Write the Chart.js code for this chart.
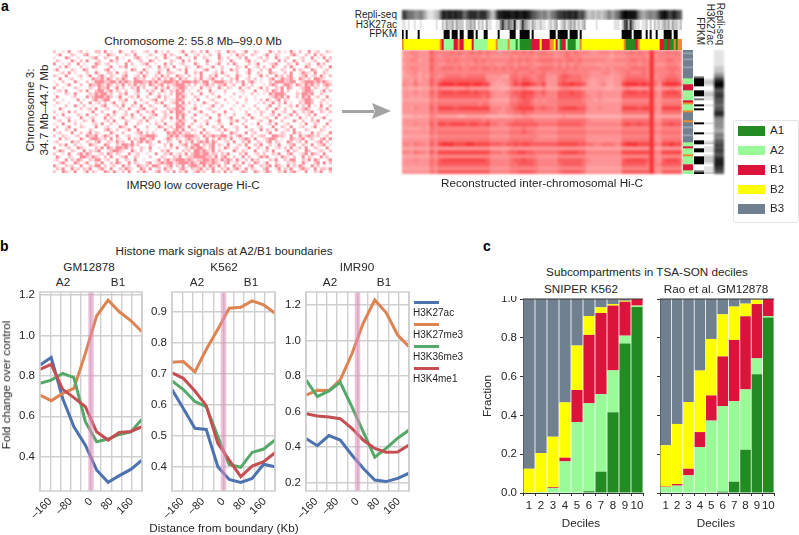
<!DOCTYPE html>
<html>
<head>
<meta charset="utf-8">
<title>Hi-C figure</title>
<script src="https://cdn.jsdelivr.net/npm/chart.js@4"></script>
<style>
  html, body { margin: 0; padding: 0; background: #fff; }
  #page { position: relative; width: 799px; height: 535px; overflow: hidden; font-family: "Liberation Sans", Arial, sans-serif; color: #262626; }
  #page canvas { position: absolute; }
  .txt { position: absolute; white-space: nowrap; line-height: 1; }
  .box { position: absolute; }
</style>
</head>
<body>
<div id="page"></div>
<script>
// panel b: histone marks around the A2/B1 boundary
const boundaryKb = [-200, -156, -111, -67, -22, 22, 67, 111, 156, 200];

const gmK27ac = [0.853, 0.891, 0.688, 0.548, 0.457, 0.334, 0.273, 0.306, 0.337, 0.383];
const gmK27me3 = [0.705, 0.677, 0.713, 0.738, 0.911, 1.096, 1.175, 1.117, 1.073, 1.018];
const gmK36me3 = [0.763, 0.779, 0.812, 0.791, 0.573, 0.474, 0.487, 0.51, 0.522, 0.585];
const gmK4me1 = [0.832, 0.857, 0.733, 0.692, 0.647, 0.523, 0.482, 0.52, 0.525, 0.548];

const k562K27ac = [0.649, 0.588, 0.524, 0.52, 0.40, 0.359, 0.349, 0.362, 0.408, 0.40];
const k562K27me3 = [0.737, 0.739, 0.706, 0.778, 0.843, 0.911, 0.914, 0.935, 0.922, 0.895];
const k562K36me3 = [0.677, 0.649, 0.61, 0.594, 0.497, 0.407, 0.398, 0.446, 0.457, 0.486];
const k562K4me1 = [0.703, 0.685, 0.644, 0.597, 0.475, 0.421, 0.368, 0.402, 0.416, 0.445];

const imrK27ac = [0.448, 0.408, 0.465, 0.44, 0.356, 0.281, 0.215, 0.206, 0.224, 0.253];
const imrK27me3 = [0.693, 0.72, 0.718, 0.778, 0.924, 1.097, 1.228, 1.157, 1.031, 0.965];
const imrK36me3 = [0.778, 0.684, 0.716, 0.765, 0.628, 0.487, 0.343, 0.393, 0.45, 0.496];
const imrK4me1 = [0.588, 0.575, 0.57, 0.56, 0.506, 0.44, 0.393, 0.371, 0.373, 0.412];

const markNames = ['H3K27ac', 'H3K27me3', 'H3K36me3', 'H3K4me1'];
const xTickLabels = { '-160': '–160', '-80': '–80', '0': '0', '80': '80', '160': '160' };

// panel c: subcompartments per decile
const deciles = ['1', '2', '3', '4', '5', '6', '7', '8', '9', '10'];

const sniperA1 = [0, 0, 0, 0, 0, 0.009, 0.11, 0.416, 0.77, 0.959];
const sniperA2 = [0, 0.005, 0.026, 0.163, 0.366, 0.453, 0.399, 0.216, 0.041, 0.007];
const sniperB1 = [0, 0, 0.004, 0.019, 0.165, 0.353, 0.419, 0.334, 0.175, 0.034];
const sniperB2 = [0.125, 0.201, 0.26, 0.285, 0.229, 0.097, 0.029, 0.008, 0.005, 0];
const sniperB3 = [0.875, 0.794, 0.71, 0.533, 0.24, 0.088, 0.043, 0.026, 0.009, 0];

const raoA1 = [0, 0, 0, 0, 0, 0.007, 0.058, 0.223, 0.612, 0.905];
const raoA2 = [0.031, 0.038, 0.091, 0.237, 0.373, 0.441, 0.415, 0.311, 0.082, 0.007];
const raoB1 = [0.002, 0.008, 0.034, 0.077, 0.13, 0.256, 0.316, 0.377, 0.28, 0.088];
const raoB2 = [0.213, 0.31, 0.344, 0.317, 0.291, 0.217, 0.172, 0.065, 0.023, 0];
const raoB3 = [0.754, 0.644, 0.531, 0.369, 0.206, 0.079, 0.039, 0.024, 0.003, 0];

const subNames = ['A1', 'A2', 'B1', 'B2', 'B3'];

const lowCoverage = [
  '2001030012 0100220301 0031002100 1200301020 0013002102 0300120031 2001300210 0031020103 1020030120 021',
  '0130002100 2300010032 1000210300 0021001302 1000300120 1020030001 0312002100 1300210002 3100210302 100',
  '1000320010 0012300210 0301000231 0100200310 0230010300 2100031020 0120300012 0200310120 0012003010 302',
  '0210003102 0300120003 1200030012 0032010002 1003020100 0310021003 1000230100 2100030200 3102001200 031',
  '3001020030 1000320120 0100302001 2300100302 0012000310 0200130020 3100020130 0012300021 0300120031 200',
  '0020310002 0103200013 0021300100 0120030210 3000210032 0013002000 0210300120 2003100203 1000320012 003',
  '1300002100 3200100230 1000103200 3100021030 0120300100 2300102003 1200031002 0130002100 3021003200 120',
  '0012030100 0200310022 0301200013 0200130022 1000300213 0001203100 0200130021 0032100203 0013210300 210',
  '2100300012 0130023102 1002300120 3100203120 0321020103 0021300120 0310020013 0200312023 0012301203 102',
  '0030012001 0003223132 0213200321 2002130213 2031200213 0123102002 1300120201 0023013223 1032120332 100',
  '1002000310 0201333223 3132321333 2232312333 2313332321 3302333212 0213023101 0021333223 3012333232 321',
  '0200130002 0032232132 0213021312 2032123021 2333120201 2312022301 2003102000 1023201332 0321323120 232',
  '3001000210 0021032230 1302002130 2001302130 1233201003 0120031021 0030120013 0200213032 0012330210 120',
  '0120300012 0300233123 0210200130 0212003102 1323010021 0030100200 0012000300 1203213020 0102332001 302',
  '1000210300 0021323312 0021300120 0031020102 0332102003 0012000100 2001002010 1032333200 0213323002 100',
  '0300001200 0312333232 0130012030 0200130210 0323100210 0200130001 0020100100 0012323130 0203230120 030',
  '2001000030 1002312330 0021300102 0012300201 1332001030 0012000200 1000200102 0310230210 0012332001 201',
  '0210010002 0030120201 3002100300 1200213001 2313020100 3100210010 0200100010 2013020301 0021332002 010',
  '1000200310 2001002300 1203002103 0021000310 0332100201 0013002000 1002000200 0130020012 0302130103 002',
  '0031000002 0120300120 0021030012 3001200021 2323001300 0120010002 0010010020 0200310201 0012320012 030',
  '2001030200 0013002000 3100200130 0213001203 1332020013 0002100300 1000200102 1003001200 3102123002 102',
  '0103000021 0300200130 2001203002 0012300210 0323100300 1200030100 2000130002 0012030013 0200120300 010',
  '3000120003 0012000302 0013002100 3021001203 0313002001 0030020013 0002003100 1200300210 0030102001 300',
  '0120030100 2103000120 3000210012 0300102001 0232100300 1200130002 1300200012 0031002000 3102002130 002',
  '1003000201 0001203002 0100300021 0010210300 1323002001 0300021003 0002001030 0120300120 0010300210 030',
  '0200130002 1000300120 0032100300 0200032012 0332030012 0002103000 1200300012 0003002103 0012001300 201',
  '3000210300 0021000231 0200130030 0100100310 2313002100 3000120310 0200012003 0210300120 3000210002 100',
  '0120003002 0130210003 1002000123 0202000032 3231220103 0210002003 2100301200 0130002100 3120003021 003',
  '2002100120 0322301321 0300120012 2333200023 2312333210 3123223312 0231002012 2003322103 0031232120 120',
  '0030210003 1023321203 0210030213 3123000132 0210232120 1302031203 0012320300 1233201003 2123012002 303',
  '1200003120 0210230021 0312003023 1320030021 0030213023 2313200120 3002130021 0230210032 0120300123 020',
  '0021300201 0032100320 0213323120 0021000203 0012302330 2123021030 0120300213 0020130012 3002103012 301',
  '3000120032 1000213032 1332312002 1030010102 0300213233 1023010320 1200130021 0300120203 0120300210 030',
  '0132002100 3021230012 3321003102 0020002130 0002120332 3213021000 3102100300 1203000130 2100320012 102',
  '2001030023 1320012032 0210030120 0100300213 0120302332 3312202130 0021300120 2002130023 0012303210 300',
  '0310021003 3213210203 0012300210 0020002100 2130122333 3221302310 2003020013 2300103210 2003021003 120',
  '1200302132 0021330120 0300210300 1000130231 2333232122 3323213232 0310203120 0021300213 3002130320 013',
  '0023100320 1300213002 1320030210 0230123233 1233323213 3223210230 1203010320 1300210021 2003100230 302',
  '3100212003 0021330201 2003120032 1203320123 0213023321 3032130200 3120023002 1230321030 2132003120 100',
  '0213003120 2130023103 0021321003 2030120312 0023102123 0213002130 2310302100 2300130213 0023210302 213',
  '2003210300 1302100320 3102030021 3100230120 3021300231 2003120302 0013200320 1320021302 3100300213 002'
];

// panel a: reconstructed map, 31 rows by 70 columns, levels 0-9
const reconstructed = [
  '445544475 5556565565656 55455 565656556 554 5565655 544555455 5565655 9 55 56565',
  '344544465 4555554555545 44444 545555455 554 4565554 444444344 4555554 9 45 55555',
  '445534475 5565655556565 55555 656565566 665 6566565 555554455 5566565 9 55 56655',
  '344444465 4455554545554 54445 545455445 554 5454554 444344444 4555455 9 44 45554',
  '445544475 5666565566566 56565 656665566 665 6565655 555545455 5566665 9 55 56665',
  '344534465 5555555555555 55555 565556556 555 5655555 544455445 5655565 9 55 55655',
  '334434365 4566665666664 44433 665665566 444 6776665 544444344 5666665 9 45 56665',
  '443534475 6777777777775 44344 676776566 444 6766665 433443344 6777776 9 55 67776',
  '544644475 8999899989988 43334 687998768 444 7889887 433453344 8999898 9 64 89998',
  '332323354 5444444544444 23222 444543334 333 4554443 333332233 4544444 9 33 44544',
  '444544475 7888788878777 54445 677888667 555 7778776 444544444 7888787 9 54 78887',
  '443434465 7777777777767 54444 667877656 555 7777776 544544444 7777777 9 54 77777',
  '333333354 5555555555555 33333 556776454 555 6666665 443433333 5555555 9 44 55555',
  '444444465 6666666666566 44444 667776555 555 6666666 444444444 6666666 9 44 66666',
  '443544475 8888788888888 55545 678888667 665 7888877 544544444 8888788 9 54 88888',
  '444444465 6666666666666 55445 566766555 555 6666666 444444444 6666666 9 44 66666',
  '222323354 3333322333332 22222 333443333 333 3433333 222222222 3333333 9 33 33333',
  '444444465 6666666666656 55555 566666555 555 6666666 544444444 6666666 9 44 66666',
  '444544475 8878888788778 66556 777777766 666 7777776 555555555 7877877 9 55 77877',
  '333334365 5555555555555 44444 555655544 444 5555555 444444444 5555555 9 44 55555',
  '444444465 6666666666666 55555 666766555 555 6666666 555555555 6666666 9 55 66666',
  '333333354 5555555555555 44444 555555544 444 5555555 444444444 5555555 9 44 55555',
  '444444465 6666666666666 55555 666666555 555 6666666 444444444 6666666 9 44 66666',
  '554655475 8999888998888 77767 787887777 777 8888877 665566655 8999888 9 65 88988',
  '333333354 4444444444444 33333 444444444 444 4444444 333333333 4444444 9 33 44444',
  '554655475 8888888888888 66656 778877666 666 7888877 555555555 8888888 9 55 88888',
  '333333354 5555555555555 44444 555555544 444 5555555 444444444 5555555 9 44 55555',
  '444544465 7888888888887 55555 677877655 555 7777776 544444444 7888887 9 54 78887',
  '444444465 7777777777777 55555 667777655 555 6777776 444444444 7777776 9 55 77777',
  '333333354 5555555555555 44444 555555544 444 5555555 333333333 5555555 9 44 55555',
  '444444465 7777777777777 55555 667777655 555 6777776 444444444 7777777 9 54 77777'
];

// tracks along the top of the map, 140 bins
const topRepli = '7765554445 4321112235 8878878878 6567878768 7865323688 8989888988 8988766554 4543455677 7878878866 7532232232 2335434557 8998989754 3344544568 8987688766';
const topAcetyl = '1101001001 0000000100 2132231322 2022323021 2031100114 7435438213 7432132112 1101212301 2312323121 2300000100 0000001110 2673742110 1120202121 2323132212';
const topFpkm = '9090000090 0000000000 0999099909 9009990900 0990000090 0000999009 9999090000 0000999099 9990999909 0000000000 0000000000 9999909999 0090900900 0999909900';
const topSub = 'obbbbbbbbb bbbbbbbbbo BaaaaaBBoB BbbbbBaaaa aaabbbboaa aaaoaaaAaA AAAAABBBBb BBBBoobBaA BBaAAAAaao bbbbbbbbbb bbbbbbbbbb boAAAAABob bbbbbbbbbB BAABAAoAoo';

// tracks down the side of the map, 62 bins
const sideSub = 'cdccdcccdc ccccaaaBBB aaaaaBoaaa occccoccdc ccdcccaaBa aaoaaaaBBB aa';
const sideFpkm = '0000000000 0005999900 9990500909 0000009000 0900099009 9009999000 59';
const sideAcetyl = '0000000000 0000122100 1221100100 0000001000 0100012011 1012221011 12';
const sideRepli = '1111111122 2345789986 6777666566 7875444443 3454566767 7667888877 66';

const page = document.getElementById('page');
const subColours = { A: '#228b22', a: '#98fb98', B: '#dc143c', b: '#ffff00', c: '#708090', d: '#93a1ae', o: '#f08a2c' };
const markColours = ['#4c72b0', '#dd8452', '#55a868', '#c44e52'];
const barColours = [subColours.A, subColours.a, subColours.B, subColours.b, subColours.c];
const bandColour = 'rgba(224,140,185,0.55)';
const gridGrey = '#cfcfcf';
const tickFont = { family: '"Liberation Sans", Arial, sans-serif', size: 11 };

Chart.defaults.font.family = tickFont.family;
Chart.defaults.color = '#262626';
Chart.defaults.animation = false;
Chart.defaults.plugins.legend.display = false;
Chart.defaults.plugins.tooltip.enabled = false;

function addCanvas(left, top, width, height, blur) {
    const canvas = document.createElement('canvas');
    canvas.width = width;
    canvas.height = height;
    canvas.style.left = left + 'px';
    canvas.style.top = top + 'px';
    if (blur) canvas.style.filter = 'blur(' + blur + 'px)';
    page.appendChild(canvas);
    return canvas;
}

function addText(text, x, y, opts) {
    const o = opts || {};
    const el = document.createElement('div');
    el.className = 'txt';
    el.textContent = text;
    el.style.left = x + 'px';
    el.style.top = y + 'px';
    el.style.fontSize = (o.size || 11.7) + 'px';
    if (o.bold) el.style.fontWeight = 'bold';
    if (o.color) el.style.color = o.color;
    if (o.vertical) el.style.writingMode = 'vertical-rl';
    let tr = o.vertical ? 'translate(-50%,-100%)' : o.align === 'left' ? 'translate(0,-50%)' : o.align === 'right' ? 'translate(-100%,-50%)' : 'translate(-50%,-50%)';
    if (o.rotate) tr += ' rotate(' + o.rotate + 'deg)';
    el.style.transform = tr;
    page.appendChild(el);
}

function addBox(x, y, w, h, colour) {
    const el = document.createElement('div');
    el.className = 'box';
    el.style.left = x + 'px';
    el.style.top = y + 'px';
    el.style.width = w + 'px';
    el.style.height = h + 'px';
    el.style.background = colour;
    page.appendChild(el);
    return el;
}

// grid of one-unit stacked bars, one dataset per row
function cellChart(left, top, cellW, cellH, rows, colourOf, blur) {
    const clean = rows.map(r => r.replace(/ /g, ''));
    const nCols = clean[0].length;
    const labels = Array.from(clean[0]).map((c, i) => i);
    const canvas = addCanvas(left, top, nCols * cellW, clean.length * cellH, blur);
    new Chart(canvas, {
        type: 'bar',
        data: {
            labels: labels,
            datasets: clean.map(r => ({
                data: Array.from(r).map(() => 1),
                backgroundColor: Array.from(r).map(colourOf),
                barPercentage: 1,
                categoryPercentage: 1,
                borderWidth: 0
            }))
        },
        options: {
            responsive: false,
            layout: { padding: 0 },
            scales: {
                x: { display: false, stacked: true },
                y: { display: false, stacked: true, reverse: true, min: 0, max: clean.length }
            }
        }
    });
}

function greyOf(c) {
    const v = 255 - Number(c) * 28;
    return 'rgb(' + v + ',' + v + ',' + v + ')';
}
function hicOf(c) {
    return ['#ffffff', '#ffe3e6', '#ffc2c8', '#fb8e98'][Number(c)];
}
function heatOf(c) {
    const t = Math.pow(Number(c) / 9, 1.5);
    const low = [255, 188, 188];
    const high = [248, 50, 52];
    const mix = low.map((v, i) => Math.round(v + (high[i] - v) * t));
    return 'rgb(' + mix.join(',') + ')';
}
function subOf(c) {
    return subColours[c];
}

// makes the plot area land on exact pixels, whatever the labels want
function fixedSize(size) {
    return function (scale) {
        if (scale.isHorizontal()) scale.height = size; else scale.width = size;
        scale.paddingLeft = 0;
        scale.paddingRight = 0;
        scale.paddingTop = 0;
        scale.paddingBottom = 0;
    };
}

const framePlugin = {
    id: 'frame',
    afterDatasetsDraw(chart, args, opts) {
        const a = chart.chartArea;
        const ctx = chart.ctx;
        ctx.save();
        ctx.strokeStyle = opts.color;
        ctx.lineWidth = opts.width;
        ctx.beginPath();
        if (opts.full) {
            ctx.rect(a.left, a.top, a.right - a.left, a.bottom - a.top);
        } else {
            ctx.moveTo(a.left, a.top);
            ctx.lineTo(a.right, a.top);
        }
        ctx.stroke();
        ctx.restore();
    }
};

function linePanel(plotLeft, plotRight, yMin, yMax, yStep, series) {
    const axisW = 34, pad = 3, axisH = 32, plotTop = 292, plotBottom = 491;
    const canvas = addCanvas(plotLeft - axisW, plotTop - pad, plotRight - plotLeft + axisW + pad, plotBottom - plotTop + pad + axisH);
    const sets = series.map((vals, i) => ({
        data: vals.map((v, k) => ({ x: boundaryKb[k], y: v })),
        borderColor: markColours[i],
        borderWidth: 3,
        pointRadius: 0,
        tension: 0,
        order: 4 - i
    }));
    sets.push({
        data: [{ x: 0, y: yMin }, { x: 0, y: yMax }],
        borderColor: bandColour,
        borderWidth: 5.5,
        pointRadius: 0,
        order: 0
    });
    new Chart(canvas, {
        type: 'line',
        data: { datasets: sets },
        plugins: [framePlugin],
        options: {
            responsive: false,
            layout: { padding: { top: pad, right: pad, left: 0, bottom: 0 } },
            plugins: { frame: { color: gridGrey, width: 1.6, full: true } },
            scales: {
                x: {
                    type: 'linear', min: -200, max: 200,
                    afterFit: fixedSize(axisH),
                    grid: { color: gridGrey, lineWidth: 1.4, drawTicks: false },
                    border: { display: false },
                    ticks: {
                        stepSize: 40, autoSkip: false, maxRotation: 45, minRotation: 45,
                        padding: 4, font: { size: 11 }, color: '#262626',
                        callback: v => xTickLabels[String(v)] || ''
                    }
                },
                y: {
                    min: yMin, max: yMax,
                    afterFit: fixedSize(axisW),
                    grid: { color: gridGrey, lineWidth: 1.4, drawTicks: false },
                    border: { display: false },
                    ticks: {
                        stepSize: yStep, includeBounds: false, padding: 5,
                        font: { size: 11.5 }, color: '#262626',
                        callback: v => v.toFixed(1)
                    }
                }
            }
        }
    });
}

function barPanel(plotLeft, plotRight, showLabels, series) {
    const axisW = 26, pad = 3, axisH = 24, plotTop = 299, plotBottom = 493;
    const canvas = addCanvas(plotLeft - axisW, plotTop - pad, plotRight - plotLeft + axisW + pad, plotBottom - plotTop + pad + axisH);
    new Chart(canvas, {
        type: 'bar',
        data: {
            labels: deciles,
            datasets: series.map((vals, i) => ({
                label: subNames[i],
                data: vals,
                backgroundColor: barColours[i],
                barPercentage: 0.93,
                categoryPercentage: 1,
                borderWidth: 0
            }))
        },
        plugins: [framePlugin],
        options: {
            responsive: false,
            layout: { padding: { top: pad, right: pad, left: 0, bottom: 0 } },
            plugins: { frame: { color: '#333333', width: 1, full: false } },
            scales: {
                x: {
                    stacked: true,
                    afterFit: fixedSize(axisH),
                    grid: { offset: true, drawOnChartArea: false, tickLength: 3, color: '#333333' },
                    border: { color: '#333333' },
                    ticks: { padding: 3, maxRotation: 0, autoSkip: false, font: { size: 11.5 }, color: '#262626' }
                },
                y: {
                    stacked: true, min: 0, max: 1,
                    afterFit: fixedSize(axisW),
                    grid: { drawOnChartArea: false, tickLength: 3, color: '#333333' },
                    border: { color: '#333333' },
                    ticks: {
                        stepSize: 0.2, padding: 3, font: { size: 11.5 }, color: '#262626',
                        callback: v => showLabels ? v.toFixed(1) : ''
                    }
                }
            }
        }
    });
}

// panel a
cellChart(53, 50, 3, 3, lowCoverage, hicOf, 0.5);
cellChart(402, 50, 4, 4, reconstructed, heatOf, 1);
cellChart(402, 10, 2, 10, [topRepli], greyOf, 1);
cellChart(402, 20, 2, 10, [topAcetyl], greyOf, 0.6);
cellChart(402, 30, 2, 9, [topFpkm], greyOf, 0.4);
cellChart(402, 39, 2, 11, [topSub], subOf, 0.4);

const sideRows = s => Array.from(s.replace(/ /g, ''));
cellChart(683, 50, 10, 2, sideRows(sideSub), subOf, 0.4);
cellChart(694, 50, 10, 2, sideRows(sideFpkm), greyOf, 0.4);
cellChart(704, 50, 10, 2, sideRows(sideAcetyl), greyOf, 0.6);
cellChart(714, 50, 10, 2, sideRows(sideRepli), greyOf, 1);

// panel b
linePanel(40, 142, 0.23, 1.215, 0.2, [gmK27ac, gmK27me3, gmK36me3, gmK4me1]);
linePanel(172, 275, 0.3216, 0.9635, 0.1, [k562K27ac, k562K27me3, k562K36me3, k562K4me1]);
linePanel(306, 409, 0.153, 1.273, 0.2, [imrK27ac, imrK27me3, imrK36me3, imrK4me1]);

// panel c
barPanel(523, 643, true, [sniperA1, sniperA2, sniperB1, sniperB2, sniperB3]);
barPanel(660, 774, false, [raoA1, raoA2, raoB1, raoB2, raoB3]);

// texts and keys
addText('a', 1, 6, { size: 14, bold: true, align: 'left', color: '#000' });
addText('b', 0, 246, { size: 14, bold: true, align: 'left', color: '#000' });
addText('c', 483, 246, { size: 14, bold: true, align: 'left', color: '#000' });

addText('Chromosome 2: 55.8 Mb–99.0 Mb', 193, 41);
addText('IMR90 low coverage Hi-C', 193, 185);
addText('Chromosome 3:', 30, 110, { rotate: -90 });
addText('34.7 Mb–44.7 Mb', 44, 110, { rotate: -90 });
addText('Reconstructed inter-chromosomal Hi-C', 542, 183);
addText('Repli-seq', 397, 15, { size: 10, align: 'right' });
addText('H3K27ac', 397, 24.5, { size: 10, align: 'right' });
addText('FPKM', 397, 34, { size: 10, align: 'right' });
addText('FPKM', 700, 45, { size: 10, vertical: true });
addText('H3K27ac', 710, 45, { size: 10, vertical: true });
addText('Repli-seq', 720, 45, { size: 10, vertical: true });

// arrow between the two maps
addBox(342, 109.5, 32, 3, '#a3a3a3');
const head = addBox(372, 103, 19, 16, '#a3a3a3');
head.style.clipPath = 'polygon(0 0, 100% 50%, 0 100%, 15% 50%)';

// subcompartment key
const keyBox = addBox(733, 120, 64, 101, '#fff');
keyBox.style.border = '1px solid #e3e3e3';
keyBox.style.borderRadius = '3px';
subNames.forEach((name, i) => {
    addBox(738, 126 + i * 19.6, 27, 9.5, barColours[i]);
    addText(name, 770, 131 + i * 19.6, { size: 11.5, align: 'left' });
});

addText('Histone mark signals at A2/B1 boundaries', 224, 251);
addText('GM12878', 89, 267);
addText('K562', 224, 267);
addText('IMR90', 357, 267);
[[63, 118], [197, 251], [330, 384]].forEach(p => {
    addText('A2', p[0], 282);
    addText('B1', p[1], 282);
});
addText('Fold change over control', 5.5, 385, { rotate: -90 });
addText('Distance from boundary (Kb)', 224, 528);

markNames.forEach((name, i) => {
    addBox(414, 301 + i * 22, 25, 2.5, markColours[i]);
    addText(name, 413, 313 + i * 22, { size: 10, align: 'left' });
});

addText('Subcompartments in TSA-SON deciles', 647, 272);
addText('SNIPER K562', 581, 289);
addText('Rao et al. GM12878', 716, 289);
addText('Fraction', 487, 396, { rotate: -90 });
addText('Deciles', 581, 523);
addText('Deciles', 716, 523);
</script>
</body>
</html>
